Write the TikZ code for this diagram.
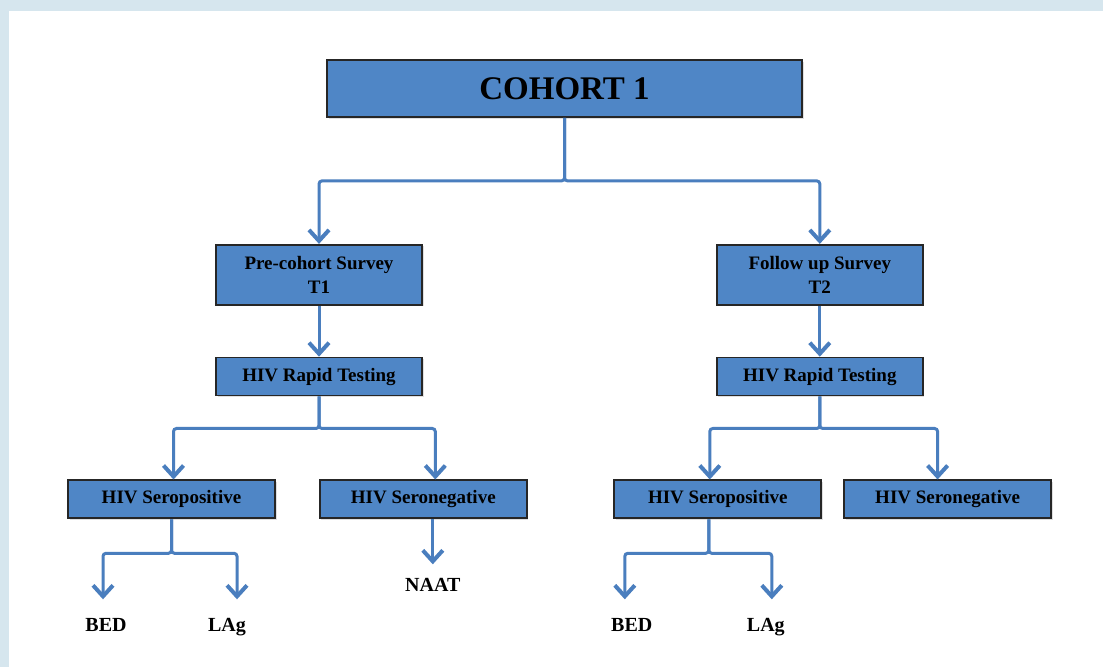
\documentclass[tikz,border=0pt]{standalone}
\usepackage{fontspec}
\setmainfont{Liberation Serif}
\usetikzlibrary{arrows.meta, positioning, shadows}
\definecolor{boxBlue}{RGB}{79, 134, 198}
\definecolor{lineBlue}{RGB}{74, 126, 190}
\definecolor{frameBlue}{RGB}{214, 230, 238}

\begin{document}
\begin{tikzpicture}[
    font=\bfseries,
    >={Straight Barb[length=5.5pt, width=10pt, line width=2pt]},
    % Styles
    conn/.style={
        ->, draw=lineBlue, line width=1.5pt, rounded corners=1.5pt
    },
    header/.style={
        draw=black!85, line width=0.9pt, fill=boxBlue, minimum width=237.5pt, minimum height=28.5pt,
        font=\fontsize{16.5}{20}\selectfont\bfseries,
        drop shadow={shadow xshift=0.8pt, shadow yshift=-0.8pt, opacity=0.25}
    },
    stage/.style={
        draw=black!85, line width=0.9pt, fill=boxBlue, align=center, minimum width=103pt, minimum height=30pt,
        inner sep=2pt, font=\fontsize{9.5}{12}\selectfont\bfseries,
        drop shadow={shadow xshift=0.8pt, shadow yshift=-0.8pt, opacity=0.25}
    },
    test/.style={stage, minimum height=19pt},
    result/.style={test, minimum width=103.5pt},
    leaf/.style={inner sep=2pt, font=\fontsize{10}{12}\selectfont\bfseries}
]

    % --- Frame ---
    \fill[frameBlue] (0,0) rectangle (551.5pt,-333.5pt);
    \fill[white] (4.5pt,-5.5pt) rectangle (551.5pt,-333.5pt);
    \useasboundingbox (0,0) rectangle (551.5pt,-333.5pt);

    % --- 1. Cohort & Surveys ---
    \node[header] (cohort) at (282.25pt,-44.25pt) {COHORT 1};
    \node[stage, below=63pt of cohort, xshift=-122.75pt] (pre1) {Pre-cohort Survey\\T1};
    \node[stage, right=146.5pt of pre1] (fol2) {Follow up Survey\\T2};

    % --- 2. Rapid Testing ---
    \node[test, below=25.5pt of pre1] (rt1) {HIV Rapid Testing};
    \node[test, below=25.5pt of fol2] (rt2) {HIV Rapid Testing};

    % --- 3. Results ---
    \node[result, below=41.5pt of rt1, xshift=-73.75pt] (pos1) {HIV Seropositive};
    \node[result, right=21.5pt of pos1] (neg1) {HIV Seronegative};
    \node[result, below=41.5pt of rt2, xshift=-51pt] (pos2) {HIV Seropositive};
    \node[result, right=10.5pt of pos2] (neg2) {HIV Seronegative};

    % --- 4. Assays ---
    \node[leaf, below=47.4pt of pos1, xshift=-32.75pt] (bed1) {BED};
    \node[leaf, below=47.4pt of pos1, xshift=27.75pt] (lag1) {LAg};
    \node[leaf, below=27.5pt of neg1, xshift=4.75pt] (naat1) {NAAT};
    \node[leaf, below=47.4pt of pos2, xshift=-43pt] (bed2) {BED};
    \node[leaf, below=47.4pt of pos2, xshift=24pt] (lag2) {LAg};

    % --- Connections ---
    \draw[conn] (cohort.south) -- ++(0,-31.5pt) -| (pre1.north);
    \draw[conn] (cohort.south) -- ++(0,-31.5pt) -| (fol2.north);
    \draw[conn] (pre1) -- (rt1);
    \draw[conn] (fol2) -- (rt2);

    \draw[conn] (rt1.south) -- ++(0,-16pt) -| ([xshift=1pt]pos1.north);
    \draw[conn] (rt1.south) -- ++(0,-16pt) -| ([xshift=6pt]neg1.north);
    \draw[conn] (rt2.south) -- ++(0,-16pt) -| ([xshift=-4pt]pos2.north);
    \draw[conn] (rt2.south) -- ++(0,-16pt) -| ([xshift=-5pt]neg2.north);

    % assay arrows stop short of the labels
    \draw[conn, shorten >=7.4pt] (pos1.south) -- ++(0,-17pt) -| ([xshift=-1.5pt]bed1.north);
    \draw[conn, shorten >=7.4pt] (pos1.south) -- ++(0,-17pt) -| ([xshift=5pt]lag1.north);
    \draw[conn, shorten >=5pt] (naat1.north |- neg1.south) -- (naat1.north);
    \draw[conn, shorten >=7.4pt] ([xshift=-4.5pt]pos2.south) -- ++(0,-17pt) -| ([xshift=-3.5pt]bed2.north);
    \draw[conn, shorten >=7.4pt] ([xshift=-4.5pt]pos2.south) -- ++(0,-17pt) -| ([xshift=3pt]lag2.north);

\end{tikzpicture}
\end{document}
